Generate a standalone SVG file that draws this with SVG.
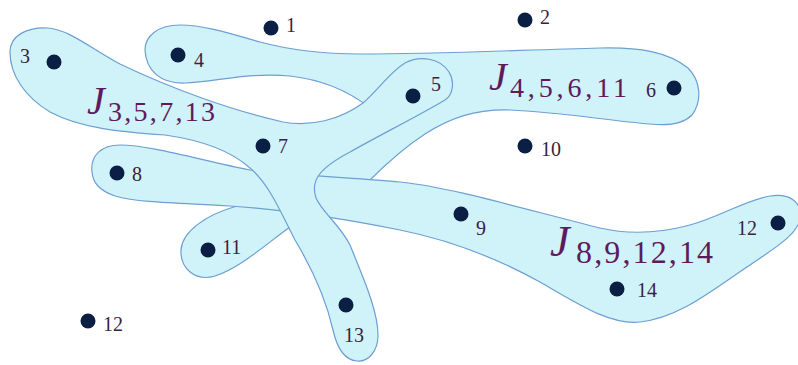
<svg xmlns="http://www.w3.org/2000/svg" width="798" height="365" viewBox="0 0 798 365">
<style>
.edge { fill: #cff3f8; stroke: #6c9fd2; stroke-width: 1.2; }
.dot { fill: #0b1f45; }
.n { font-family: "Liberation Serif", "DejaVu Serif", serif; font-size: 20px; fill: #3b2142; }
.J { font-family: "Liberation Serif", "DejaVu Serif", serif; font-style: italic; fill: #5e1a5c; }
.s { font-family: "Liberation Serif", "DejaVu Serif", serif; fill: #5e1a5c; }
</style>
<rect width="798" height="365" fill="#ffffff"/>
<g id="hyperedges">
  <g id="J4_5_6_11">
    <path class="edge" d="M 145,50 C 145,36 158,25 180,25 C 205,25 235,35 260,42 C 290,50 320,54 360,54 C 440,54 520,50 600,48 C 640,47 668,52 688,68 C 700,80 703,100 692,115 C 683,124 668,126 650,124 C 610,121 560,112 510,110 C 475,109 450,118 425,134 C 405,147 385,165 370,180 C 345,198 315,210 290,227 C 265,245 240,268 215,276 C 195,282 180,268 181,250 C 182,232 205,215 237,206 C 280,188 330,135 370,108 C 350,92 325,80 290,76 C 250,72 215,82 185,83 C 160,84 146,70 145,50 Z"/>
    <text class="J" x="489" y="90" font-size="40">J</text>
    <text class="s" x="510" y="97" font-size="28" textLength="117" lengthAdjust="spacing">4,5,6,11</text>
  </g>
  <g id="J8_9_12_14">
    <path class="edge" d="M 92,172 C 90,155 102,145 120,145 C 150,145 200,160 250,170 C 300,176 360,178 400,182 C 450,187 520,208 600,228 C 630,235 660,233 690,225 C 720,217 745,200 770,196 C 790,193 800,202 801,215 C 800,232 780,245 750,265 C 715,288 680,318 640,322 C 610,325 580,305 540,282 C 500,260 450,240 400,230 C 350,220 290,210 230,206 C 180,203 140,203 115,196 C 98,190 93,182 92,172 Z"/>
    <text class="J" x="550" y="256" font-size="44">J</text>
    <text class="s" x="576" y="263" font-size="32" textLength="137" lengthAdjust="spacing">8,9,12,14</text>
  </g>
  <g id="J3_5_7_13">
    <path class="edge" d="M 10,52 C 10,36 26,27 48,28 C 70,30 90,48 120,64 C 170,88 230,110 283,122 C 310,127 340,120 363,103 C 378,90 390,72 405,63 C 420,55 440,58 449,72 C 455,82 453,95 445,100 C 420,115 380,135 350,152 C 320,168 310,180 316,198 C 322,212 340,225 350,245 C 362,275 378,310 378,335 C 378,352 368,362 357,361 C 345,360 337,348 333,330 C 325,295 310,265 295,240 C 282,215 270,185 250,168 C 230,150 200,140 165,135 C 120,132 80,128 50,112 C 25,97 10,75 10,52 Z"/>
    <text class="J" x="87" y="114" font-size="40">J</text>
    <text class="s" x="108" y="121" font-size="28" textLength="107" lengthAdjust="spacing">3,5,7,13</text>
  </g>
</g>
<g id="v1"><circle class="dot" cx="271" cy="28" r="7.5"/><text class="n" x="286" y="32">1</text></g>
<g id="v2"><circle class="dot" cx="525" cy="20" r="7.5"/><text class="n" x="540" y="24">2</text></g>
<g id="v3"><circle class="dot" cx="54" cy="62" r="7.5"/><text class="n" x="20" y="63">3</text></g>
<g id="v4"><circle class="dot" cx="178" cy="55" r="7.5"/><text class="n" x="194" y="67">4</text></g>
<g id="v5"><circle class="dot" cx="413" cy="96" r="7.5"/><text class="n" x="431" y="91">5</text></g>
<g id="v6"><circle class="dot" cx="674" cy="88" r="7.5"/><text class="n" x="646" y="97">6</text></g>
<g id="v7"><circle class="dot" cx="263" cy="146" r="7.5"/><text class="n" x="278" y="153">7</text></g>
<g id="v8"><circle class="dot" cx="117" cy="173" r="7.5"/><text class="n" x="132" y="181">8</text></g>
<g id="v9"><circle class="dot" cx="461" cy="214" r="7.5"/><text class="n" x="476" y="235">9</text></g>
<g id="v10"><circle class="dot" cx="525" cy="146" r="7.5"/><text class="n" x="541" y="156">10</text></g>
<g id="v11"><circle class="dot" cx="208" cy="250" r="7.5"/><text class="n" x="222" y="254">11</text></g>
<g id="v12a"><circle class="dot" cx="88" cy="321" r="7.5"/><text class="n" x="103" y="331">12</text></g>
<g id="v12b"><circle class="dot" cx="778" cy="223" r="7.5"/><text class="n" x="737" y="235">12</text></g>
<g id="v13"><circle class="dot" cx="346" cy="305" r="7.5"/><text class="n" x="344" y="342">13</text></g>
<g id="v14"><circle class="dot" cx="617" cy="289" r="7.5"/><text class="n" x="637" y="297">14</text></g>
</svg>
